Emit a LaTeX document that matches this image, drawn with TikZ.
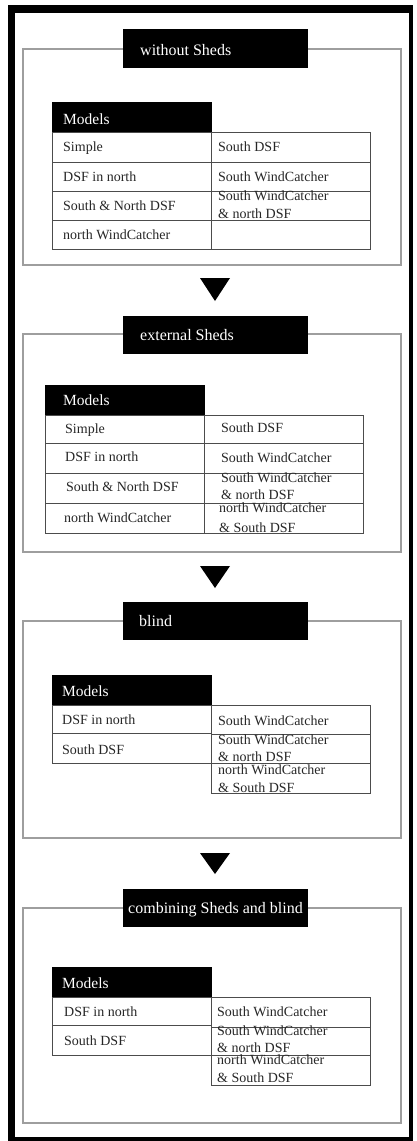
\documentclass[tikz,border=0pt]{standalone}
\usepackage{fontspec}
\setmainfont{Liberation Serif}
\tikzset{
  grp/.style={draw=black!38, line width=1.4, rectangle, inner sep=0, outer sep=0, anchor=north west},
  ttlbox/.style={fill=black, draw=black, rectangle, inner sep=0, outer sep=0, anchor=north west},
  hdrbox/.style={fill=black, draw=black, rectangle, inner sep=0, outer sep=0, anchor=north west},
  cellbox/.style={draw=black!70, line width=0.9, rectangle, inner sep=0, outer sep=0, anchor=north west},
  txt/.style={font=\fontsize{14}{16}\selectfont, text=black!85, anchor=base west, inner sep=0},
  ttl/.style={font=\fontsize{16}{18}\selectfont, text=white, anchor=base west, inner sep=0},
  hdr/.style={font=\fontsize{15.5}{18}\selectfont, text=white, anchor=base west, inner sep=0},
  tri/.style={fill=black}
}
% box helper: name, x1, y1, x2, y2, style
\newcommand{\bx}[6]{\node[#6, minimum width={#4-#2}, minimum height={#5-#3}] (#1) at (#2,#3) {};}
\begin{document}
\begin{tikzpicture}[x=1pt, y=-1pt]
\useasboundingbox (0,0) rectangle (416,1141);
% outer frame
\draw[line width=7.5] (411,9) -- (11.5,9) -- (11.5,1141) -- (411,1141);
\draw[line width=4] (410.5,5.25) -- (410.5,1141);
\draw[line width=7] (11.5,1140) -- (412,1140);

% ===== Section 1 =====
\bx{g1}{23}{49}{401}{265}{grp}
\bx{t1}{123}{29}{307}{67}{ttlbox}
\node[ttl] (t1txt) at (140,55) {without Sheds};
\bx{h1}{52}{102}{211}{132}{hdrbox}
\node[hdr] (h1txt) at (63,124) {Models};
\bx{a1l1}{52}{132}{211}{162}{cellbox}
\bx{a1l2}{52}{162}{211}{191}{cellbox}
\bx{a1l3}{52}{191}{211}{220}{cellbox}
\bx{a1l4}{52}{220}{211}{249}{cellbox}
\bx{a1r1}{211}{132}{370}{162}{cellbox}
\bx{a1r2}{211}{162}{370}{191}{cellbox}
\bx{a1r3}{211}{191}{370}{220}{cellbox}
\bx{a1r4}{211}{220}{370}{249}{cellbox}
\node[txt] (s1a) at (63,151.5) {Simple};
\node[txt] (s1b) at (63,181) {DSF in north};
\node[txt] (s1c) at (63,210) {South \& North DSF};
\node[txt] (s1d) at (63,239) {north WindCatcher};
\node[txt] (s1e) at (218,151.5) {South DSF};
\node[txt] (s1f) at (218,181) {South WindCatcher};
\node[txt] (s1g) at (218,200) {South WindCatcher};
\node[txt] (s1h) at (218,218) {\& north DSF};

% arrow 1
\fill[tri] (200,278) -- (230,278) -- (215,301) -- cycle;

% ===== Section 2 =====
\bx{g2}{23}{334}{401}{552}{grp}
\bx{t2}{123}{316}{307}{353}{ttlbox}
\node[ttl] (t2txt) at (140,340) {external Sheds};
\bx{h2}{45}{385}{204}{415}{hdrbox}
\node[hdr] (h2txt) at (63,405) {Models};
\bx{a2l1}{45}{415}{204}{443}{cellbox}
\bx{a2l2}{45}{443}{204}{473}{cellbox}
\bx{a2l3}{45}{473}{204}{503}{cellbox}
\bx{a2l4}{45}{503}{204}{533}{cellbox}
\bx{a2r1}{204}{415}{363}{443}{cellbox}
\bx{a2r2}{204}{443}{363}{473}{cellbox}
\bx{a2r3}{204}{473}{363}{503}{cellbox}
\bx{a2r4}{204}{503}{363}{533}{cellbox}
\node[txt] (s2a) at (65,433) {Simple};
\node[txt] (s2b) at (65,461) {DSF in north};
\node[txt] (s2c) at (66,491.5) {South \& North DSF};
\node[txt] (s2d) at (64,522) {north WindCatcher};
\node[txt] (s2e) at (221,432) {South DSF};
\node[txt] (s2f) at (221,462) {South WindCatcher};
\node[txt] (s2g) at (221,482) {South WindCatcher};
\node[txt] (s2h) at (221,499) {\& north DSF};
\node[txt] (s2i) at (219,512) {north WindCatcher};
\node[txt] (s2j) at (219,532) {\& South DSF};

% arrow 2
\fill[tri] (200,566) -- (230,566) -- (215,588) -- cycle;

% ===== Section 3 =====
\bx{g3}{23}{621}{401}{838}{grp}
\bx{t3}{123}{602}{307}{639}{ttlbox}
\node[ttl] (t3txt) at (139,626) {blind};
\bx{h3}{52}{675}{211}{705}{hdrbox}
\node[hdr] (h3txt) at (62,696) {Models};
\bx{a3l1}{52}{705}{211}{733}{cellbox}
\bx{a3l2}{52}{733}{211}{763}{cellbox}
\bx{a3r1}{211}{705}{370}{734}{cellbox}
\bx{a3r2}{211}{734}{370}{763}{cellbox}
\bx{a3r3}{211}{763}{370}{793}{cellbox}
\node[txt] (s3a) at (62,724.5) {DSF in north};
\node[txt] (s3b) at (62,754) {South DSF};
\node[txt] (s3c) at (218,725) {South WindCatcher};
\node[txt] (s3d) at (218,744.5) {South WindCatcher};
\node[txt] (s3e) at (218,761) {\& north DSF};
\node[txt] (s3f) at (218,774) {north WindCatcher};
\node[txt] (s3g) at (218,792) {\& South DSF};

% arrow 3
\fill[tri] (200,853) -- (230,853) -- (215,874) -- cycle;

% ===== Section 4 =====
\bx{g4}{23}{908}{401}{1123}{grp}
\bx{t4}{123}{889}{307}{926}{ttlbox}
\node[ttl] (t4txt) at (128,913) {combining Sheds and blind};
\bx{h4}{52}{967}{211}{997}{hdrbox}
\node[hdr] (h4txt) at (62,988) {Models};
\bx{a4l1}{52}{997}{211}{1025}{cellbox}
\bx{a4l2}{52}{1025}{211}{1055}{cellbox}
\bx{a4r1}{211}{997}{370}{1027}{cellbox}
\bx{a4r2}{211}{1027}{370}{1055}{cellbox}
\bx{a4r3}{211}{1055}{370}{1085}{cellbox}
\node[txt] (s4a) at (64,1016) {DSF in north};
\node[txt] (s4b) at (64,1045) {South DSF};
\node[txt] (s4c) at (217,1016) {South WindCatcher};
\node[txt] (s4d) at (217,1035.5) {South WindCatcher};
\node[txt] (s4e) at (217,1052) {\& north DSF};
\node[txt] (s4f) at (217,1064.5) {north WindCatcher};
\node[txt] (s4g) at (217,1082) {\& South DSF};
\end{tikzpicture}
\end{document}
